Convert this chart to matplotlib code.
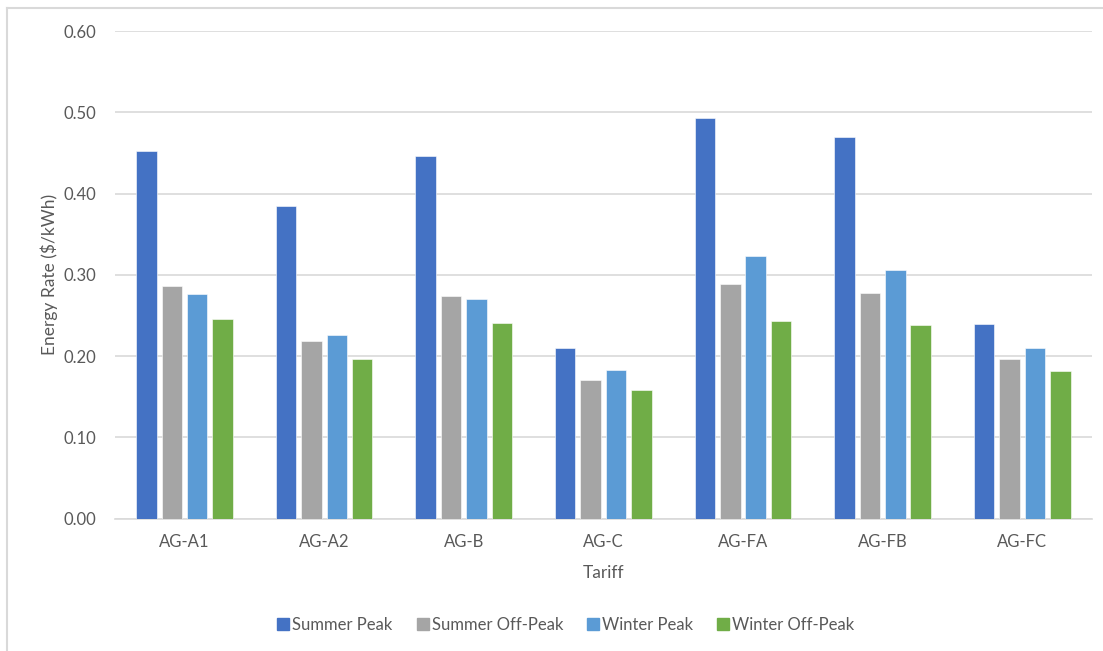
import numpy as np
import matplotlib.pyplot as plt
from matplotlib.lines import Line2D

# tariff energy rates ($/kWh)
tariffs = ['AG-A1', 'AG-A2', 'AG-B', 'AG-C', 'AG-FA', 'AG-FB', 'AG-FC']
summer_peak = [0.452, 0.385, 0.447, 0.210, 0.493, 0.470, 0.240]
summer_offpeak = [0.286, 0.219, 0.274, 0.171, 0.289, 0.278, 0.196]
winter_peak = [0.276, 0.226, 0.270, 0.183, 0.323, 0.306, 0.210]
winter_offpeak = [0.246, 0.196, 0.241, 0.158, 0.243, 0.238, 0.182]

series = [('Summer Peak', summer_peak, '#4472C4'),
          ('Summer Off-Peak', summer_offpeak, '#A5A5A5'),
          ('Winter Peak', winter_peak, '#5B9BD5'),
          ('Winter Off-Peak', winter_offpeak, '#70AD47')]

plt.rcParams['font.family'] = ['Lato', 'DejaVu Sans']
txt = '#595959'
grid = '#D9D9D9'

fig = plt.figure(figsize=(11.03, 6.51), dpi=100)
ax = fig.add_axes([0.104, 0.2035, 0.886, 0.7485])

x = np.arange(len(tariffs))
slot = 0.182
bw = 0.147
for i, (name, vals, col) in enumerate(series):
    ax.bar(x + (i - 1.5) * slot, vals, width=bw, color=col, label=name,
           edgecolor='white', linewidth=0.4, zorder=3)

ax.set_xlim(-0.5, len(tariffs) - 0.5)
ax.set_ylim(0, 0.6)
ax.set_yticks(np.arange(0, 0.61, 0.1))
ax.set_yticklabels([f'{v:.2f}' for v in np.arange(0, 0.61, 0.1)])
ax.set_xticks(x)
ax.set_xticklabels(tariffs)
ax.yaxis.grid(True, color=grid, linewidth=1.2, zorder=0)
for s in ['top', 'right', 'left']:
    ax.spines[s].set_visible(False)
ax.spines['bottom'].set_color(grid)
ax.spines['bottom'].set_linewidth(1.2)
ax.tick_params(axis='both', length=0, colors=txt, labelsize=12)
ax.tick_params(axis='x', pad=11)
ax.tick_params(axis='y', pad=13)

ax.set_xlabel('Tariff', color=txt, fontsize=12.5, labelpad=11)
ax.set_ylabel('Energy Rate ($/kWh)', color=txt, fontsize=12.5, labelpad=4)

handles = [Line2D([], [], marker='s', linestyle='none', markersize=8,
                  markerfacecolor=c, markeredgecolor=c) for _, _, c in series]
fig.legend(handles, [n for n, _, _ in series], loc='center',
           bbox_to_anchor=(0.512, 0.04), ncol=4, frameon=False,
           fontsize=12, labelcolor=txt, handletextpad=0.05,
           columnspacing=1.3, handlelength=1.0)

# chart area border (top and left edges)
fig.add_artist(Line2D([7 / 1103, 1], [1 - 8 / 651, 1 - 8 / 651],
                      color=grid, linewidth=1.5))
fig.add_artist(Line2D([7 / 1103, 7 / 1103], [0, 1 - 8 / 651],
                      color=grid, linewidth=1.5))

fig.savefig('out.png', dpi=100)
